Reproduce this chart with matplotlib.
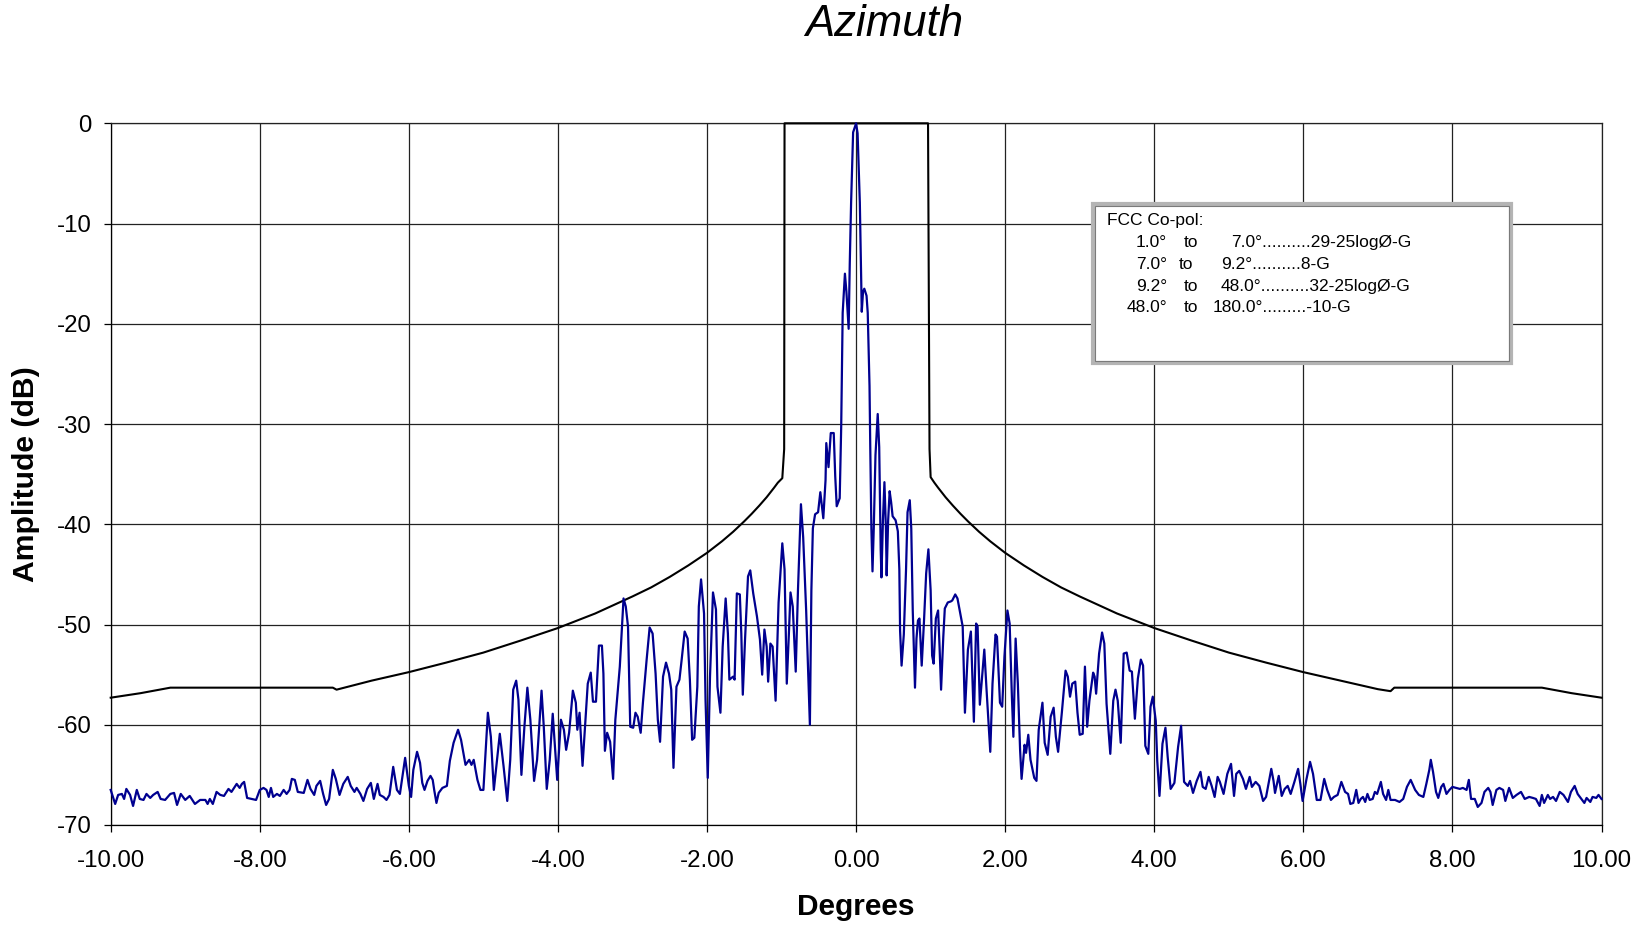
import matplotlib
matplotlib.use("Agg")
import matplotlib.pyplot as plt
from matplotlib.patches import Rectangle

# ---------------- data (degrees, amplitude dB) ----------------
seg_far_left = [
    (-10.00,-66.5),(-9.94,-67.9),(-9.90,-67.0),(-9.85,-66.9),(-9.82,-67.4),(-9.79,-66.4),(-9.74,-67.0),(-9.70,-68.1),(-9.65,-66.5),(-9.61,-67.4),
    (-9.56,-67.5),(-9.52,-66.9),(-9.47,-67.3),(-9.43,-67.0),(-9.37,-66.7),(-9.33,-67.4),(-9.27,-67.5),(-9.20,-66.9),(-9.15,-66.8),(-9.11,-68.0),
    (-9.06,-66.9),(-9.00,-67.5),(-8.94,-67.1),(-8.87,-67.9),(-8.80,-67.5),(-8.73,-67.5),(-8.70,-67.9),(-8.67,-67.4),(-8.63,-67.9),(-8.58,-66.7),
    (-8.53,-67.0),(-8.48,-67.1),(-8.42,-66.4),(-8.38,-66.7),(-8.31,-65.9),(-8.27,-66.3),(-8.24,-65.9),(-8.21,-65.7),(-8.17,-67.3),(-8.11,-67.4),
    (-8.05,-67.5),(-8.00,-66.5),(-7.95,-66.3),(-7.91,-66.5),(-7.88,-67.2),(-7.85,-66.3),(-7.82,-67.2),(-7.77,-66.9),(-7.73,-67.1),(-7.68,-66.5),
    (-7.64,-66.9),(-7.60,-66.5),(-7.57,-65.4),(-7.53,-65.5),(-7.49,-66.7),(-7.41,-66.8),(-7.36,-65.5),(-7.32,-66.4),(-7.27,-67.0),(-7.24,-66.1),
    (-7.19,-65.6),(-7.15,-66.9),(-7.11,-68.0),(-7.07,-67.4),(-7.02,-64.5),(-6.98,-65.4),(-6.93,-67.0),(-6.88,-65.9),(-6.82,-65.2),(-6.78,-66.1),
    (-6.73,-66.7),(-6.70,-66.3),(-6.65,-66.9),(-6.61,-67.6),(-6.56,-66.4),(-6.51,-65.8),(-6.47,-67.4),(-6.42,-65.9),(-6.39,-67.0),(-6.34,-67.2),
    (-6.30,-67.5),(-6.26,-67.0),(-6.21,-64.2),(-6.16,-66.5),(-6.12,-66.9),(-6.05,-63.3),(-6.00,-66.1),(-5.97,-67.2),(-5.94,-64.5),(-5.89,-62.7),
]
seg_left = [
    (-5.85,-63.8),(-5.82,-65.8),(-5.79,-66.5),(-5.75,-65.6),(-5.71,-65.1),(-5.68,-65.5),(-5.66,-66.5),(-5.63,-67.8),(-5.60,-66.8),(-5.55,-66.3),
    (-5.49,-66.1),(-5.45,-63.6),(-5.40,-61.8),(-5.34,-60.5),(-5.30,-61.5),(-5.24,-64.0),(-5.19,-63.5),(-5.16,-64.0),(-5.13,-63.5),(-5.08,-65.5),
    (-5.04,-66.5),(-5.00,-66.5),(-4.94,-58.8),(-4.90,-61.2),(-4.86,-66.5),(-4.78,-60.9),(-4.73,-64.1),(-4.68,-67.6),(-4.64,-63.5),(-4.60,-56.5),
    (-4.56,-55.6),(-4.53,-57.5),(-4.49,-65.0),(-4.45,-60.2),(-4.41,-56.3),(-4.37,-59.5),(-4.32,-65.6),(-4.28,-63.5),(-4.22,-56.6),(-4.19,-60.2),
    (-4.15,-66.4),(-4.11,-63.5),(-4.07,-58.9),(-4.04,-62.2),(-4.01,-65.5),(-3.96,-59.5),(-3.92,-60.5),(-3.89,-62.5),(-3.85,-60.8),(-3.80,-56.6),
    (-3.76,-57.8),(-3.74,-60.5),(-3.71,-58.8),(-3.67,-64.1),(-3.63,-59.5),(-3.60,-55.9),(-3.56,-54.8),(-3.53,-57.7),(-3.49,-57.7),(-3.45,-52.1),
    (-3.41,-52.1),(-3.39,-54.9),(-3.37,-62.6),(-3.34,-60.8),(-3.30,-61.7),(-3.26,-65.4),(-3.23,-59.5),(-3.17,-54.2),(-3.12,-47.4),(-3.09,-48.2),
    (-3.06,-50.2),
]
seg_near_left = [
    (-3.03,-60.2),(-2.99,-60.3),(-2.96,-58.8),(-2.93,-59.2),(-2.89,-60.8),(-2.86,-57.8),(-2.81,-53.5),(-2.77,-50.3),(-2.73,-50.9),(-2.69,-54.9),
    (-2.66,-59.5),(-2.63,-61.7),(-2.59,-55.2),(-2.55,-53.8),(-2.51,-54.9),(-2.48,-56.5),(-2.45,-64.3),(-2.41,-56.2),(-2.37,-55.5),(-2.34,-53.5),
    (-2.30,-50.7),(-2.26,-51.4),(-2.23,-55.5),(-2.20,-61.5),(-2.17,-61.3),(-2.13,-56.2),(-2.11,-48.2),(-2.08,-45.5),(-2.04,-48.9),(-2.02,-57.5),
    (-1.99,-65.3),(-1.96,-55.2),(-1.92,-46.8),(-1.88,-48.5),(-1.86,-56.2),(-1.82,-58.8),(-1.79,-52.2),(-1.75,-47.4),(-1.72,-50.9),(-1.70,-55.5),
    (-1.65,-55.2),(-1.63,-55.5),(-1.60,-46.9),(-1.56,-47.0),(-1.54,-50.9),(-1.52,-57.0),(-1.49,-51.5),(-1.45,-45.2),(-1.42,-44.6),(-1.38,-46.9),
    (-1.33,-49.2),(-1.29,-51.5),(-1.26,-55.0),(-1.23,-50.5),(-1.20,-52.2),(-1.18,-55.7),(-1.15,-51.9),(-1.12,-52.2),
]
seg_main_left = [
    (-1.08,-57.6),(-1.04,-47.8),(-0.99,-41.9),(-0.96,-44.5),(-0.93,-55.9),(-0.90,-50.6),(-0.88,-46.8),(-0.85,-48.2),(-0.81,-54.7),(-0.78,-46.6),
    (-0.74,-38.0),(-0.71,-41.3),(-0.67,-48.6),(-0.62,-60.0),(-0.60,-46.6),(-0.58,-40.4),(-0.55,-39.0),(-0.51,-38.8),(-0.48,-36.8),(-0.44,-39.4),
    (-0.41,-35.6),(-0.40,-31.9),(-0.37,-34.3),(-0.34,-30.9),(-0.30,-30.9),(-0.28,-35.2),(-0.26,-38.2),(-0.22,-37.4),(-0.20,-30.3),(-0.18,-18.9),
    (-0.15,-15.0),(-0.13,-16.8),(-0.10,-20.5),(-0.085,-14.0),(-0.067,-7.9),(-0.04,-0.9),(0.00,0.0),(0.02,-1.0),
]
seg_main_right = [
    (0.05,-7.9),(0.076,-18.8),(0.093,-16.8),(0.11,-16.5),(0.14,-17.2),(0.156,-18.9),(0.18,-26.2),(0.19,-32.3),(0.205,-40.4),(0.22,-44.7),
    (0.237,-40.4),(0.26,-33.1),(0.29,-29.0),(0.31,-32.3),(0.33,-42.5),(0.34,-45.3),(0.36,-39.6),(0.38,-35.8),(0.40,-40.4),(0.41,-45.1),
    (0.43,-39.6),(0.45,-36.7),(0.47,-37.8),(0.49,-39.2),(0.53,-39.6),(0.56,-40.7),(0.58,-44.5),(0.59,-50.6),(0.61,-54.1),(0.64,-51.0),
    (0.67,-44.5),(0.69,-38.8),(0.72,-37.6),(0.74,-40.4),(0.76,-48.6),(0.79,-56.3),(0.81,-51.4),(0.83,-49.6),(0.85,-49.4),(0.88,-54.1),
    (0.91,-49.8),(0.94,-44.9),(0.97,-42.5),(1.00,-46.6),(1.02,-53.1),(1.04,-53.9),(1.07,-49.4),(1.10,-48.6),(1.12,-52.3),
]
seg_near_right = [
    (1.14,-56.5),(1.17,-51.2),(1.19,-48.4),(1.23,-47.8),(1.27,-47.7),(1.29,-47.6),(1.33,-47.0),(1.36,-47.4),(1.39,-48.6),(1.43,-50.2),
    (1.46,-58.8),(1.50,-52.5),(1.54,-50.7),(1.58,-59.7),(1.61,-49.9),(1.63,-50.2),(1.66,-58.0),(1.69,-55.2),(1.72,-52.5),(1.75,-56.5),
    (1.80,-62.7),(1.83,-55.9),(1.87,-51.0),(1.89,-51.2),(1.93,-57.8),(1.96,-58.2),(1.99,-53.2),(2.03,-48.6),(2.06,-49.9),(2.09,-57.2),
    (2.11,-61.2),(2.14,-51.4),(2.17,-55.9),(2.20,-62.5),(2.22,-65.4),(2.26,-62.0),(2.28,-62.8),(2.31,-61.0),(2.34,-63.5),(2.39,-65.3),
    (2.42,-65.6),(2.45,-60.5),(2.50,-57.8),(2.53,-61.8),(2.57,-63.0),(2.61,-59.2),(2.65,-58.3),(2.68,-61.2),(2.71,-62.7),(2.76,-58.8),
    (2.81,-54.6),(2.84,-55.2),(2.87,-57.2),(2.90,-55.9),(2.94,-55.7),(2.97,-58.8),(3.00,-61.0),
]
seg_right = [
    (3.04,-60.9),(3.07,-54.2),(3.10,-60.2),(3.13,-57.6),(3.18,-54.8),(3.20,-55.2),(3.22,-56.9),(3.26,-52.9),(3.30,-50.8),(3.33,-51.9),
    (3.36,-57.9),(3.41,-62.9),(3.45,-57.6),(3.48,-56.5),(3.51,-57.6),(3.55,-61.8),(3.59,-52.9),(3.63,-52.8),(3.67,-54.6),(3.70,-54.7),
    (3.74,-59.4),(3.78,-55.4),(3.82,-53.5),(3.85,-54.1),(3.88,-62.1),(3.92,-62.9),(3.95,-58.2),(3.98,-57.2),(4.02,-59.6),(4.04,-63.6),
    (4.07,-67.1),(4.11,-61.9),(4.15,-60.3),(4.18,-63.2),(4.22,-66.4),(4.27,-65.8),(4.32,-62.2),(4.36,-60.1),(4.40,-65.7),(4.45,-66.1),
    (4.48,-65.6),(4.52,-66.8),(4.57,-65.6),(4.62,-64.7),(4.65,-66.2),(4.69,-66.4),(4.73,-65.2),(4.77,-66.1),(4.81,-67.2),(4.85,-65.2),
    (4.88,-65.7),(4.93,-66.9),(4.98,-64.9),(5.03,-63.9),(5.07,-67.1),(5.10,-64.9),(5.14,-64.6),(5.19,-65.4),(5.23,-66.4),(5.28,-65.2),
    (5.31,-66.2),(5.36,-65.7),(5.41,-66.1),(5.46,-67.6),(5.50,-67.2),(5.54,-65.6),(5.57,-64.4),(5.60,-65.6),(5.62,-66.8),(5.67,-65.1),
    (5.71,-67.1),(5.75,-66.4),(5.79,-66.1),(5.83,-66.9),(5.88,-65.7),(5.93,-64.4),(5.96,-65.9),(5.99,-67.6),
]
seg_far_right = [
    (6.04,-65.5),(6.09,-63.7),(6.13,-64.9),(6.18,-67.5),(6.23,-67.5),(6.28,-65.4),(6.32,-66.5),(6.37,-67.5),(6.41,-67.2),(6.46,-67.0),
    (6.51,-65.7),(6.56,-66.7),(6.60,-66.9),(6.63,-67.9),(6.67,-67.8),(6.71,-66.5),(6.74,-67.8),(6.77,-67.4),(6.80,-67.2),(6.83,-67.7),
    (6.86,-66.9),(6.89,-67.5),(6.93,-67.4),(6.96,-66.7),(6.99,-66.9),(7.04,-65.7),(7.07,-66.9),(7.11,-67.5),(7.14,-66.5),(7.17,-67.5),
    (7.23,-67.5),(7.29,-67.7),(7.34,-67.4),(7.39,-66.2),(7.44,-65.5),(7.50,-66.5),(7.55,-67.0),(7.61,-67.2),(7.65,-65.9),(7.69,-64.5),
    (7.71,-63.5),(7.74,-64.7),(7.78,-66.7),(7.81,-67.3),(7.85,-66.2),(7.88,-65.9),(7.92,-66.9),(7.96,-66.5),(8.00,-66.2),(8.05,-66.3),
    (8.10,-66.4),(8.14,-66.3),(8.19,-66.5),(8.22,-65.5),(8.25,-67.4),(8.30,-67.4),(8.34,-68.2),(8.39,-67.8),(8.43,-66.7),(8.48,-66.3),
    (8.51,-66.7),(8.54,-68.0),(8.59,-66.5),(8.63,-66.3),(8.68,-66.5),(8.71,-67.6),(8.76,-66.3),(8.81,-67.3),(8.86,-67.0),(8.92,-66.7),
    (8.97,-67.4),(9.03,-67.2),(9.08,-67.3),(9.12,-67.4),(9.17,-68.1),(9.20,-67.0),(9.23,-67.8),(9.28,-67.0),(9.31,-67.4),(9.35,-67.2),
    (9.39,-67.6),(9.44,-66.7),(9.49,-67.0),(9.55,-67.7),(9.59,-66.7),(9.64,-66.1),(9.68,-66.9),(9.73,-67.4),(9.77,-67.8),(9.80,-67.3),
    (9.85,-67.7),(9.88,-67.2),(9.93,-67.3),(9.96,-67.0),(10.00,-67.4),
]

# FCC co-pol envelope (G = gain)
mask_pts = [
    (-10.0,-57.3),(-9.6,-56.85),(-9.2,-56.3),(-7.02,-56.3),(-6.97,-56.5),(-6.5,-55.6),(-6.0,-54.75),(-5.5,-53.8),
    (-5.0,-52.8),(-4.5,-51.6),(-4.0,-50.35),(-3.5,-48.9),(-3.0,-47.2),(-2.75,-46.3),(-2.5,-45.25),(-2.25,-44.1),
    (-2.0,-42.85),(-1.8,-41.7),(-1.65,-40.75),(-1.5,-39.7),(-1.4,-38.95),(-1.3,-38.15),(-1.2,-37.3),(-1.1,-36.35),
    (-1.05,-35.85),(-0.99,-35.4),(-0.965,-32.5),(-0.96,0.0),(0.965,0.0),(0.985,-32.5),(1.0,-35.3),(1.05,-35.85),
    (1.1,-36.35),(1.2,-37.3),(1.3,-38.15),(1.4,-38.95),(1.5,-39.7),(1.65,-40.75),(1.8,-41.7),(2.0,-42.85),
    (2.25,-44.1),(2.5,-45.25),(2.75,-46.3),(3.0,-47.2),(3.5,-48.9),(4.0,-50.35),(4.5,-51.6),(5.0,-52.8),
    (5.5,-53.8),(6.0,-54.75),(6.5,-55.6),(7.0,-56.45),(7.17,-56.65),(7.22,-56.3),(9.2,-56.3),(9.6,-56.85),(10.0,-57.3),
]

x_ticks = [-10, -8, -6, -4, -2, 0, 2, 4, 6, 8, 10]
y_ticks = [0, -10, -20, -30, -40, -50, -60, -70]

legend_title = "FCC Co-pol:"
legend_from = ["1.0°", "7.0°", "9.2°", "48.0°"]
legend_rule = ["7.0°..........29-25logØ-G", "9.2°..........8-G",
               "48.0°..........32-25logØ-G", "180.0°.........-10-G"]

# ---------------- figure ----------------
W, H = 1644, 925
plt.rcParams['font.family'] = ['Liberation Sans', 'DejaVu Sans']
fig = plt.figure(figsize=(W / 100, H / 100), dpi=100)

def fx(px):
    return px / W

def fy(py):
    return 1 - py / H

L, R, T, B = 110.7, 1601.5, 123.3, 825.0
ax = fig.add_axes([fx(L), fy(B), fx(R - L), (B - T) / H])

trace = seg_far_left + seg_left + seg_near_left + seg_main_left + seg_main_right + seg_near_right + seg_right + seg_far_right
tx = [p[0] for p in trace]
ty = [p[1] for p in trace]
mx = [p[0] for p in mask_pts]
my = [p[1] for p in mask_pts]

ax.plot(mx, my, color='black', lw=1.5, zorder=3, clip_on=False, solid_joinstyle='round')
ax.plot(tx, ty, color='#000090', lw=1.6, zorder=4, clip_on=False, solid_joinstyle='round')

ax.set_xlim(-10, 10)
ax.set_ylim(-70, 0)
ax.set_xticks(x_ticks)
ax.set_yticks(y_ticks)
ax.set_xticklabels([f"{v:.2f}" for v in x_ticks])
ax.set_yticklabels([f"{v:d}" for v in y_ticks])
ax.grid(True, color='#222222', lw=0.9, zorder=1)
ax.set_axisbelow(True)
for s in ax.spines.values():
    s.set_color('#222222')
    s.set_linewidth(0.9)
ax.spines['left'].set_color('black')
ax.spines['bottom'].set_color('black')
ax.tick_params(axis='both', direction='out', length=5, width=0.9, colors='black', labelsize=17.3)
ax.tick_params(axis='x', pad=13)
ax.tick_params(axis='y', pad=9.0)

fig.text(fx(884), fy(25), "Azimuth", fontsize=31.5, style='italic', ha='center', va='center')
fig.text(fx(856), fy(907), "Degrees", fontsize=21.5, fontweight='bold', ha='center', va='center')
fig.text(fx(26), fy(474), "Amplitude (dB)", fontsize=21.7, fontweight='bold', rotation=90,
         ha='center', va='center')

# legend / annotation box
bx0, by0, bx1, by1 = 1093, 204, 1511, 363
fig.patches.append(Rectangle((fx(bx0), fy(by1)), fx(bx1 - bx0), (by1 - by0) / H,
                             transform=fig.transFigure, facecolor='white',
                             edgecolor='#b4b4b4', lw=3, zorder=5))
fig.patches.append(Rectangle((fx(bx0 + 2), fy(by1 - 2)), fx(bx1 - bx0 - 4), (by1 - by0 - 4) / H,
                             transform=fig.transFigure, facecolor='none',
                             edgecolor='#7a7a7a', lw=0.8, zorder=6))
fs = 12.5
fig.text(fx(1107), fy(221), legend_title, fontsize=fs, ha='left', va='center', zorder=7)
row_y = [242.5, 264.5, 286.5, 308.0]
to_x = [1184, 1179, 1184, 1184]
rule_x = [1231, 1221, 1221, 1213]
for i in range(4):
    fig.text(fx(1167), fy(row_y[i]), legend_from[i], fontsize=fs, ha='right', va='center', zorder=7)
    fig.text(fx(to_x[i]), fy(row_y[i]), "to", fontsize=fs, ha='left', va='center', zorder=7)
    fig.text(fx(rule_x[i]), fy(row_y[i]), legend_rule[i], fontsize=fs, ha='left', va='center', zorder=7)

fig.savefig("out.png", dpi=100, facecolor='white')
